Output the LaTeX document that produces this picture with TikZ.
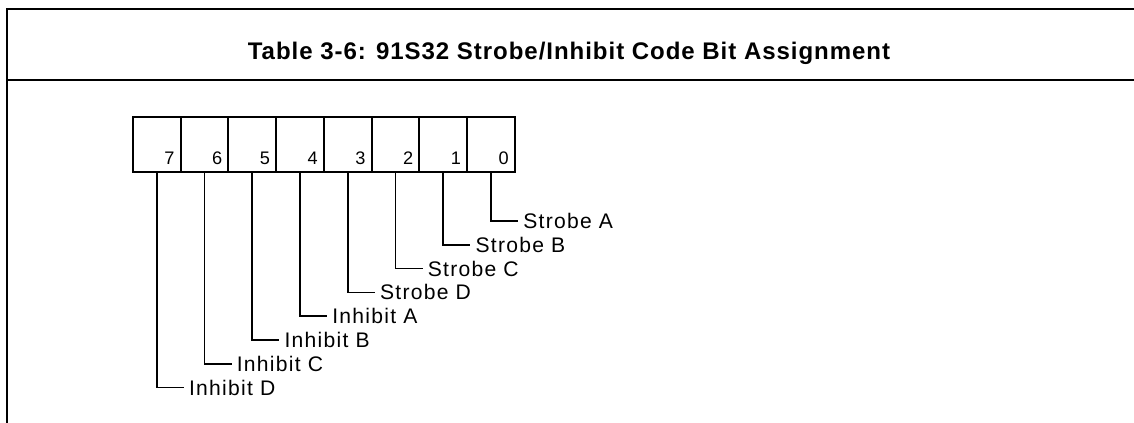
\documentclass[tikz,border=0pt]{standalone}
\usepackage{fontspec}
\setmainfont{Liberation Sans}
\newfontfamily\lblfont[LetterSpace=6]{Liberation Sans}
\newfontfamily\ttlfont[LetterSpace=4]{Liberation Sans}

\usetikzlibrary{positioning, calc}

\begin{document}
\begin{tikzpicture}[x=0.03cm, y=-0.03cm,
  frame/.style={line width=1.8pt},
  cell/.style={rectangle,draw,line width=1.7pt,minimum width=1.4325cm,minimum height=1.65cm,inner sep=0pt},
  digit/.style={font=\fontsize{15.5}{17}\selectfont,anchor=base east,inner sep=0pt},
  lbl/.style={font=\lblfont\fontsize{18}{21}\selectfont,anchor=west,inner xsep=0.15cm,inner ysep=0pt},
  ttl/.style={font=\ttlfont\bfseries\fontsize{20.5}{24}\selectfont},
  lead/.style={line width=1.5pt}
]
  \useasboundingbox (0,0) rectangle (1134,423);
  % frame of the table
  \coordinate (tl) at (7,9);
  \coordinate (tr) at (1134,9);
  \coordinate (ml) at (7,80);
  \coordinate (mr) at (1134,80);
  \coordinate (bl) at (7,423);
  \draw[frame](tr)--(tl)--(bl);
  \draw[frame](ml)--(mr);
  \node[ttl] (title) at (569,53) {Table 3-6: 91S32 Strobe/Inhibit Code Bit Assignment};

  % register cells, bit 0 on the right
  \foreach \i in {0,...,7}{
    \node[cell] (b\i) at ({491.1-47.75*\i},144.5) {};
    \node[digit] (d\i) at ($(b\i.south east)+(-7,-8)$) {\i};
  }

  % bit names
  \foreach \i/\txt in {0/Strobe A,1/Strobe B,2/Strobe C,3/Strobe D,
                       4/Inhibit A,5/Inhibit B,6/Inhibit C,7/Inhibit D}{
    \node[lbl] (l\i) at ($(b\i.south)+(27,{48+23.8*\i})$) {\txt};
    \draw[lead](b\i.south)|-(l\i.west);
  }
\end{tikzpicture}
\end{document}
